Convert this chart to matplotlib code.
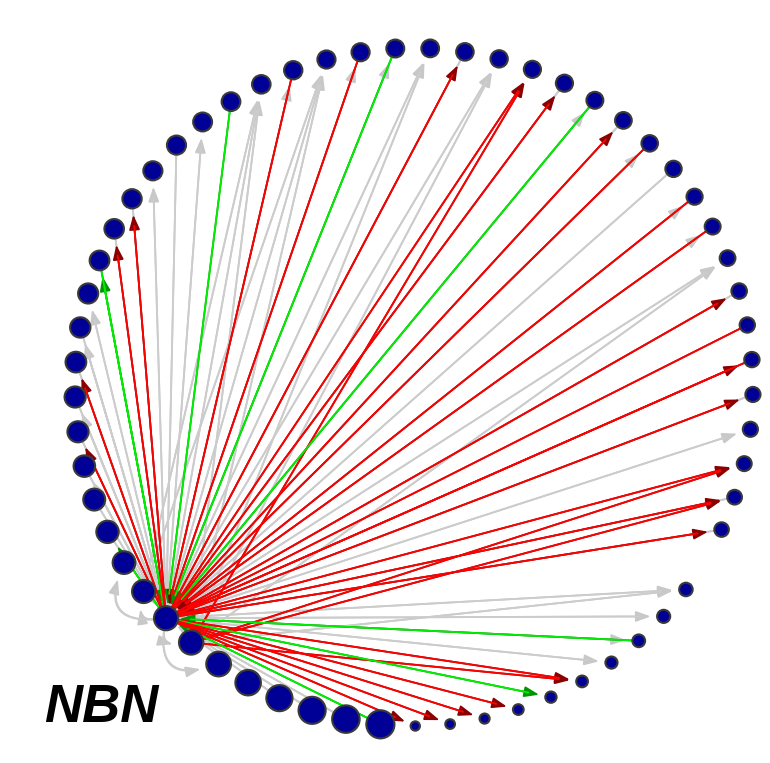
import numpy as np
import matplotlib.pyplot as plt
from matplotlib.patches import FancyArrowPatch

# node weights round the circle (slot 0 is the hub, slot 43 is empty)
node_weight = [12.5,
               12.0, 11.8, 11.6, 11.4, 11.2, 11.0, 11.0, 10.8, 10.6, 10.5,
               10.3, 10.2, 10.1, 10.0, 10.0, 9.9, 9.8, 9.7, 9.6, 9.5,
               9.5, 9.4, 9.3, 9.2, 9.1, 9.0, 9.0, 8.9, 8.8, 8.7,
               8.6, 8.5, 8.4, 8.3, 8.2, 8.1, 8.1, 8.0, 8.0, 7.9,
               7.8, 7.7, 0.0, 7.2, 7.0, 6.8, 6.5, 6.3, 6.1, 5.8,
               5.5, 5.3, 5.1, 14.5, 14.2, 14.0, 13.5, 13.2, 12.8, 12.6]

# edges: source, target, kind (x = neutral, r = negative, g = positive)
edge_src = [0, 0, 0, 3, 4, 0, 5, 0, 6, 7, 0, 0, 8, 0, 9, 0,
            0, 11, 0, 12, 0, 13, 0, 15, 0, 17, 0, 1, 60, 19, 0,
            0, 1, 60, 21, 0, 22, 0, 0, 60, 0, 24, 0, 60, 0, 60,
            0, 27, 28, 0, 0, 29, 30, 0, 31, 32, 0, 33, 0, 0, 60,
            0, 35, 36, 37, 0, 0, 38, 0, 0, 60, 0, 60, 41, 0, 42,
            0, 60, 0, 46, 0, 0, 0, 60, 0, 0, 0, 0, 0, 54, 55, 56, 57,
            0, 0]
edge_dst = [1, 2, 3, 0, 0, 5, 0, 6, 0, 0, 7, 8, 0, 9, 0, 10,
            11, 0, 12, 0, 13, 0, 14, 0, 16, 0, 18, 18, 18, 0, 19,
            20, 20, 20, 0, 21, 0, 22, 23, 23, 24, 0, 25, 25, 26, 26,
            27, 0, 0, 28, 29, 0, 0, 30, 0, 0, 32, 0, 33, 34, 34,
            35, 0, 0, 0, 37, 38, 0, 39, 40, 40, 41, 41, 0, 42, 0,
            44, 44, 45, 0, 46, 47, 48, 48, 49, 50, 51, 52, 53, 0, 0, 0, 0,
            59, 60]
edge_kind = ['x', 'x', 'g', 'x', 'x', 'x', 'x', 'r', 'x', 'x', 'x', 'r', 'x', 'x', 'x', 'x',
             'g', 'g', 'r', 'x', 'r', 'x', 'x', 'x', 'x', 'g', 'x', 'x', 'x', 'r', 'x',
             'x', 'x', 'x', 'r', 'x', 'g', 'x', 'x', 'x', 'r', 'x', 'x', 'x', 'r', 'r',
             'r', 'x', 'g', 'x', 'r', 'x', 'r', 'x', 'x', 'r', 'x', 'r', 'x', 'x', 'x',
             'r', 'x', 'r', 'r', 'r', 'r', 'x', 'x', 'r', 'r', 'r', 'r', 'x', 'r', 'x',
             'x', 'x', 'x', 'g', 'x', 'x', 'r', 'r', 'g', 'r', 'r', 'r', 'r', 'g', 'x', 'x', 'x',
             'x', 'x']

label = "NBN"

line_col = {'x': '#cccccc', 'r': '#ff0000', 'g': '#00ee00'}
head_col = {'x': '#c8c8c8', 'r': '#8b0000', 'g': '#009400'}
zord = {'x': 1, 'r': 2, 'g': 2}

n = len(node_weight)
ang = np.deg2rad(223 - np.arange(n) * 360 / n)
pos = np.column_stack([np.cos(ang), np.sin(ang)])

fig = plt.figure(figsize=(7.7, 7.63), dpi=100)
ax = fig.add_axes([0, 0, 1, 1])
ax.set_xlim(-1.2212, 1.0501)
ax.set_ylim(-1.1091, 1.1416)
ax.axis('off')

px2pt = 72 / fig.dpi
ms = 16
hl = 0.55
astyle = f'-|>,head_length={hl},head_width=0.2'

for s, d, k in zip(edge_src, edge_dst, edge_kind):
    gap = (d == 0) and 1 or 6
    shrink = (node_weight[d] + gap) * px2pt
    # neighbours of the hub get a looping edge bent outwards
    step = min(abs(s - d), n - abs(s - d))
    rad = 0.0
    if step <= 2:
        mid = (pos[s] + pos[d]) / 2
        dx, dy = pos[d] - pos[s]
        rad = 0.9 * np.sign(mid[0] * dy - mid[1] * dx)
    cs = f'arc3,rad={rad}'
    ax.add_patch(FancyArrowPatch(pos[s], pos[d], arrowstyle=astyle, mutation_scale=ms,
                                 shrinkA=0, shrinkB=shrink, connectionstyle=cs,
                                 color=head_col[k], lw=1.3, zorder=zord[k]))
    ax.add_patch(FancyArrowPatch(pos[s], pos[d], arrowstyle='-', shrinkA=0,
                                 shrinkB=shrink + hl * ms * 0.9, connectionstyle=cs,
                                 color=line_col[k], lw=1.3, zorder=zord[k] + 0.1))

w = np.array(node_weight)
keep = w > 0
lw = 1.5
size = (2 * (w[keep] + 0.6) * px2pt - lw) ** 2
ax.scatter(pos[keep, 0], pos[keep, 1], s=size, c='#000096', edgecolors='#3a3a3a',
           linewidths=lw, zorder=5)

fig.text(44 / 770, (763 - 722) / 763, label, fontsize=38, fontweight='bold',
         fontstyle='italic', family='Liberation Sans', va='baseline', ha='left')

fig.savefig('out.png', dpi=100)
